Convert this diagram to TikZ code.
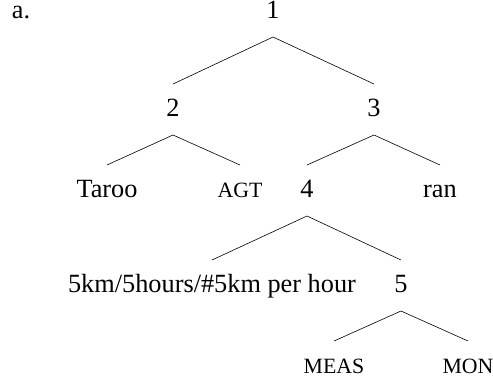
\documentclass[tikz,border=0pt]{standalone}
\usepackage{fontspec}
\setmainfont{Liberation Serif}
\newcommand{\scaps}[1]{{\fontsize{21.8}{26}\selectfont #1}}
\begin{document}
\begin{tikzpicture}[x=1pt,y=-1pt,
  lab/.style={anchor=base,inner xsep=0pt,inner ysep=14pt,outer sep=0pt,
    text height=18pt,text depth=5pt,font=\fontsize{26.3}{31}\selectfont},
  branch/.style={line width=0.6pt}]
\useasboundingbox (0,0) rectangle (493,383);
\node[lab,anchor=base west] (ex) at (12,18.5) {a.};
\node[lab] (n1) at (273,18) {1};
\node[lab] (n2) at (173,116) {2};
\node[lab] (n3) at (374,116) {3};
\node[lab] (taroo) at (107,197) {Taroo};
\node[lab] (agt) at (240,197) {\scaps{AGT}};
\node[lab] (n4) at (307,197) {4};
\node[lab] (ran) at (440,197) {ran};
\node[lab] (meas) at (212,292) {5km/5hours/\#5km per hour};
\node[lab] (n5) at (401,292) {5};
\node[lab] (measf) at (334,373) {\scaps{MEAS}};
\node[lab] (mon) at (468,373) {\scaps{MON}};
\draw[branch] (n2.north) -- (n1.south) -- (n3.north);
\draw[branch] (taroo.north) -- (n2.south) -- (agt.north);
\draw[branch] (n4.north) -- (n3.south) -- (ran.north);
\draw[branch] (meas.north) -- (n4.south) -- (n5.north);
\draw[branch] (measf.north) -- (n5.south) -- (mon.north);
\end{tikzpicture}
\end{document}
